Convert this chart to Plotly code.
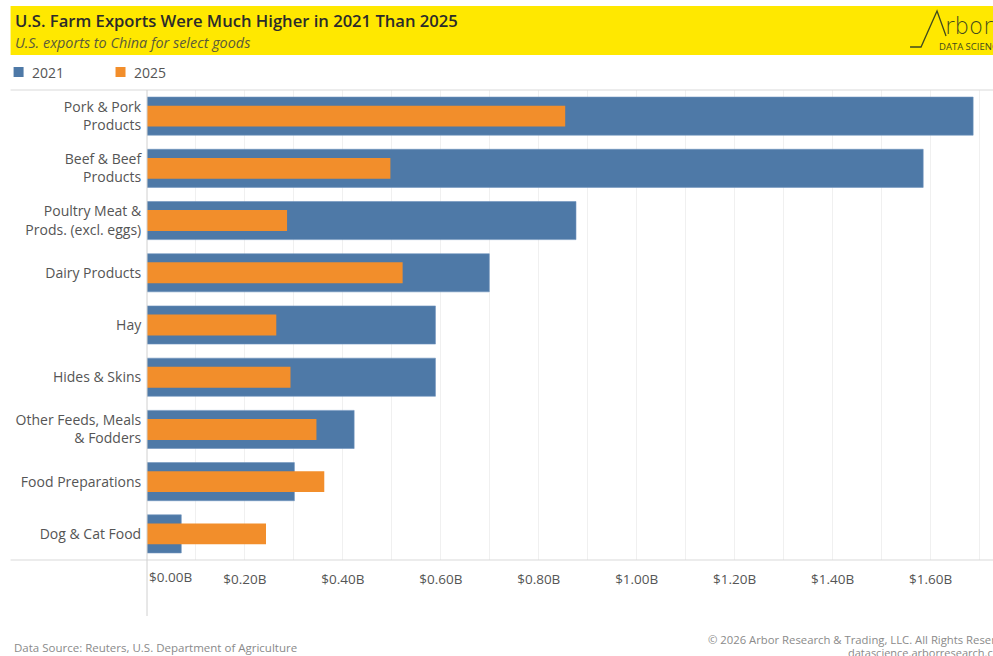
import plotly.graph_objects as go

categories = ["Pork & Pork<br>Products", "Beef & Beef<br>Products", "Poultry Meat &<br>Prods. (excl. eggs)",
              "Dairy Products", "Hay", "Hides & Skins", "Other Feeds, Meals<br>& Fodders",
              "Food Preparations", "Dog & Cat Food"]
values_2021 = [1.687, 1.585, 0.876, 0.699, 0.589, 0.589, 0.423, 0.301, 0.070]
values_2025 = [0.854, 0.497, 0.286, 0.522, 0.264, 0.293, 0.346, 0.362, 0.243]
tick_vals = [0.2, 0.4, 0.6, 0.8, 1.0, 1.2, 1.4, 1.6]
tick_text = ["$0.20B", "$0.40B", "$0.60B", "$0.80B", "$1.00B", "$1.20B", "$1.40B", "$1.60B"]

BLUE = "#4E79A7"
ORANGE = "#F28E2B"
FONT = "Open Sans"
W, H = 993, 656
L, R, T, B = 146.5, 0, 90, 96
PW = W - L - R
PH = H - T - B

fig = go.Figure()
fig.add_trace(go.Bar(y=categories, x=values_2021, orientation="h", width=0.73,
                     marker=dict(color=BLUE, line=dict(color="#6f93bd", width=0.6)),
                     name="2021", showlegend=False))
fig.add_trace(go.Bar(y=categories, x=values_2025, orientation="h", width=0.40,
                     marker=dict(color=ORANGE, line=dict(width=0)),
                     name="2025", showlegend=False))

def px_x(p):
    return (p - L) / PW

def px_y(p):
    return 1 - (p - T) / PH

shapes = [
    dict(type="rect", xref="paper", yref="paper", x0=px_x(10), x1=px_x(1000), y0=px_y(55), y1=px_y(6),
         fillcolor="#FFE800", line=dict(width=0), layer="below"),
    dict(type="line", xref="paper", yref="paper", x0=px_x(10), x1=px_x(1000), y0=px_y(90), y1=px_y(90),
         line=dict(color="#d9d9d9", width=1)),
    dict(type="line", xref="paper", yref="paper", x0=px_x(10), x1=px_x(1000), y0=px_y(560), y1=px_y(560),
         line=dict(color="#d9d9d9", width=1)),
    dict(type="line", xref="paper", yref="paper", x0=0, x1=0, y0=px_y(90), y1=px_y(616),
         line=dict(color="#d0d0d0", width=1)),
    dict(type="rect", xref="paper", yref="paper", x0=px_x(13), x1=px_x(23), y0=px_y(77), y1=px_y(67),
         fillcolor=BLUE, line=dict(width=0)),
    dict(type="rect", xref="paper", yref="paper", x0=px_x(115), x1=px_x(125), y0=px_y(77), y1=px_y(67),
         fillcolor=ORANGE, line=dict(width=0)),
    dict(type="path", xref="paper", yref="paper",
         path=f"M {px_x(910)},{px_y(47)} L {px_x(921)},{px_y(47)} L {px_x(937)},{px_y(11)} L {px_x(946)},{px_y(36)}",
         line=dict(color="#3f4a1e", width=1.3)),
]

annotations = [
    dict(text="U.S. Farm Exports Were Much Higher in 2021 Than 2025", xref="paper", yref="paper",
         x=px_x(12), y=px_y(21), xanchor="left", yanchor="middle", showarrow=False,
         font=dict(family=FONT, size=16.6, color="#2b2b2b", weight=600)),
    dict(text="<i>U.S. exports to China for select goods</i>", xref="paper", yref="paper",
         x=px_x(12), y=px_y(43), xanchor="left", yanchor="middle", showarrow=False,
         font=dict(family=FONT, size=14.4, color="#5a5a3a")),
    dict(text="rbor", xref="paper", yref="paper", x=px_x(943), y=px_y(26), xanchor="left", yanchor="middle",
         showarrow=False, font=dict(family="DejaVu Sans", size=23, color="#3f4a1e", weight=300)),
    dict(text="DATA SCIENCE", xref="paper", yref="paper", x=px_x(937), y=px_y(46), xanchor="left",
         yanchor="middle", showarrow=False, font=dict(family=FONT, size=9.5, color="#3f4a1e")),
    dict(text="2021", xref="paper", yref="paper", x=px_x(29), y=px_y(73), xanchor="left", yanchor="middle",
         showarrow=False, font=dict(family=FONT, size=14, color="#555555")),
    dict(text="2025", xref="paper", yref="paper", x=px_x(131), y=px_y(73), xanchor="left", yanchor="middle",
         showarrow=False, font=dict(family=FONT, size=14, color="#555555")),
    dict(text="$0.00B", xref="paper", yref="paper", x=px_x(147), y=px_y(577), xanchor="left",
         yanchor="middle", showarrow=False, font=dict(family=FONT, size=13.5, color="#555555")),
    dict(text="Data Source: Reuters, U.S. Department of Agriculture", xref="paper", yref="paper",
         x=px_x(11), y=px_y(647), xanchor="left", yanchor="middle", showarrow=False,
         font=dict(family=FONT, size=11.5, color="#8a8a8a")),
    dict(text="© 2026 Arbor Research & Trading, LLC. All Rights Reserved.", xref="paper", yref="paper",
         x=px_x(706), y=px_y(639), xanchor="left", yanchor="middle", showarrow=False,
         font=dict(family=FONT, size=11.3, color="#8a8a8a")),
    dict(text="datascience.arborresearch.com", xref="paper", yref="paper",
         x=px_x(846), y=px_y(652.5), xanchor="left", yanchor="middle", showarrow=False,
         font=dict(family=FONT, size=11, color="#8a8a8a")),
]

fig.update_layout(
    width=W, height=H,
    margin=dict(l=L, r=R, t=T, b=B, pad=0),
    paper_bgcolor="white", plot_bgcolor="white",
    barmode="overlay",
    font=dict(family=FONT, size=12, color="#555555"),
    shapes=shapes, annotations=annotations,
    xaxis=dict(range=[0, (W - L - R) / 490.0], tickvals=tick_vals, ticktext=tick_text,
               showgrid=True, gridcolor="#f0f0f0", gridwidth=1, zeroline=False, showline=False,
               ticks="outside", ticklen=7, tickcolor="rgba(0,0,0,0)",
               tickfont=dict(family=FONT, size=13.5, color="#555555"),
               minor=dict(dtick=0.1, tick0=0, showgrid=True, gridcolor="#f0f0f0", gridwidth=1)),
    yaxis=dict(categoryorder="array", categoryarray=categories, autorange=False, range=[8.5, -0.5],
               showgrid=False, zeroline=False, showline=False, ticks="outside", ticklen=2,
               tickcolor="rgba(0,0,0,0)", tickfont=dict(family=FONT, size=14, color="#555555")),
)

fig.write_html("out.html", config={"displayModeBar": False},
               post_script="document.body.style.margin='0';document.body.style.padding='0';")
